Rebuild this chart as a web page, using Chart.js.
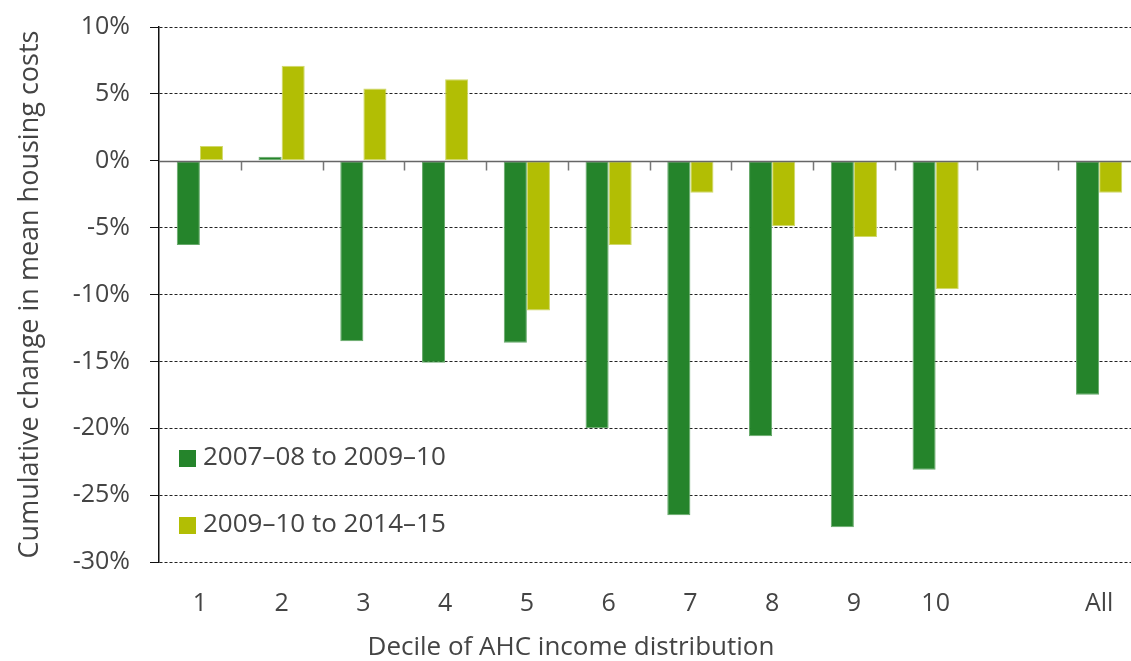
<!DOCTYPE html>
<html>
<head>
<meta charset="utf-8">
<title>Housing costs by decile</title>
<script src="https://cdn.jsdelivr.net/npm/chart.js@4/dist/chart.umd.min.js"></script>
<style>
    html, body { margin: 0; padding: 0; background: #fff; overflow: hidden; }
    #wrap { width: 1141px; height: 661px; position: relative; }
</style>
</head>
<body>
<div id="wrap"><canvas id="housingChart"></canvas></div>
<script>
const deciles = ['1', '2', '3', '4', '5', '6', '7', '8', '9', '10', '', 'All'];
const change0710 = [-6.3, 0.3, -13.5, -15.1, -13.6, -20.0, -26.5, -20.6, -27.4, -23.1, null, -17.5];
const change1015 = [1.1, 7.1, 5.4, 6.1, -11.2, -6.3, -2.4, -4.9, -5.7, -9.6, null, -2.4];
const seriesLabels = ['2007\u201308 to 2009\u201310', '2009\u201310 to 2014\u201315'];
const yTicks = [10, 5, 0, -5, -10, -15, -20, -25, -30];
const xTitle = 'Decile of AHC income distribution';

const FONT = '"Open Sans", "Noto Sans", sans-serif';
const TEXT = '#444444';

// zero line + category tick marks sitting on it, the in-plot legend and the x title
const axisExtras = {
    id: 'axisExtras',
    afterDatasetsDraw(chart) {
        const { ctx, chartArea, scales } = chart;
        const y0 = Math.round(scales.y.getPixelForValue(0)) + 0.5;
        ctx.save();
        ctx.strokeStyle = '#666666';
        ctx.lineWidth = 1.5;
        ctx.beginPath();
        ctx.moveTo(chartArea.left, y0);
        ctx.lineTo(chartArea.right, y0);
        ctx.stroke();
        ctx.strokeStyle = '#777777';
        for (let i = 1; i < deciles.length; i++) {
            const x = Math.round((scales.x.getPixelForTick(i - 1) + scales.x.getPixelForTick(i)) / 2) + 0.5;
            ctx.beginPath();
            ctx.moveTo(x, y0);
            ctx.lineTo(x, y0 + 9);
            ctx.stroke();
        }
        ctx.restore();
    },
    afterDraw(chart) {
        const { ctx, chartArea } = chart;
        const rows = [chartArea.bottom - 104, chartArea.bottom - 37];
        ctx.save();
        ctx.font = '26px ' + FONT;
        ctx.textBaseline = 'middle';
        chart.data.datasets.forEach((ds, i) => {
            ctx.fillStyle = ds.backgroundColor;
            ctx.fillRect(chartArea.left + 20, rows[i] - 8, 17, 17);
            ctx.fillStyle = TEXT;
            ctx.fillText(ds.label, chartArea.left + 44, rows[i]);
        });
        // axis title sits centred under the whole figure
        ctx.textAlign = 'center';
        ctx.fillText(xTitle, 571, chart.height - 13);
        ctx.restore();
    }
};

new Chart(document.getElementById('housingChart'), {
    type: 'bar',
    data: {
        labels: deciles,
        datasets: [
            { label: seriesLabels[0], data: change0710, backgroundColor: '#25842b', borderColor: '#66a96a', borderWidth: 1, borderSkipped: false },
            { label: seriesLabels[1], data: change1015, backgroundColor: '#b2be04', borderColor: '#d0d86a', borderWidth: 1, borderSkipped: false }
        ]
    },
    options: {
        responsive: true,
        maintainAspectRatio: false,
        animation: false,
        layout: { padding: { top: 27, right: 1, left: 0, bottom: 0 } },
        datasets: { bar: { categoryPercentage: 0.565, barPercentage: 1 } },
        plugins: {
            legend: { display: false },
            tooltip: { enabled: false }
        },
        scales: {
            x: {
                grid: { display: false, drawTicks: false },
                border: { display: false },
                ticks: { color: TEXT, font: { family: FONT, size: 25 }, padding: 27, maxRotation: 0 },
                afterFit(scale) { scale.height = 99; }
            },
            y: {
                min: -30,
                max: 10,
                afterBuildTicks(scale) { scale.ticks = yTicks.map(v => ({ value: v })); },
                grid: {
                    color: ctx => ctx.tick && ctx.tick.value === 0 ? 'rgba(0,0,0,0)' : '#222222',
                    lineWidth: 1,
                    tickLength: 9,
                    tickColor: '#111111'
                },
                border: { display: true, color: '#111111', width: 1.5, dash: [3, 2] },
                ticks: { color: TEXT, font: { family: FONT, size: 25 }, padding: 20, callback: v => v + '%' },
                title: { display: true, text: 'Cumulative change in mean housing costs', color: TEXT, font: { family: FONT, size: 27, lineHeight: 1 }, padding: { top: 17, bottom: 0 } },
                afterFit(scale) {
                    scale.width = 159;
                    scale.paddingTop = 0;
                    scale.paddingBottom = 0;
                }
            }
        }
    },
    plugins: [axisExtras]
});
</script>
</body>
</html>
